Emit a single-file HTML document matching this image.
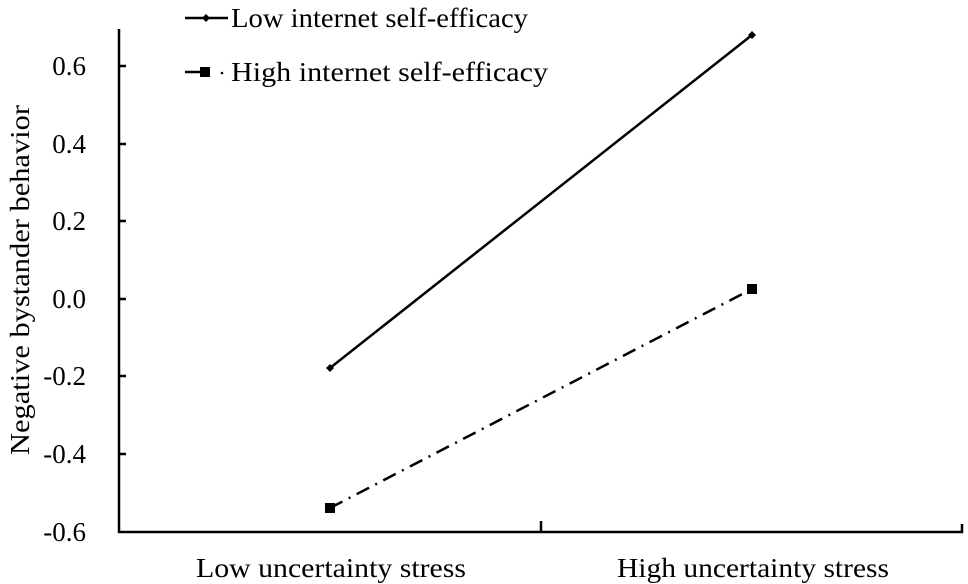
<!DOCTYPE html>
<html><head><style>body{margin:0;background:#fff}svg{display:block}</style></head><body>
<svg width="968" height="584" xmlns="http://www.w3.org/2000/svg" font-family="Liberation Serif, serif" fill="#000">
<g stroke="#000" stroke-width="2.5" fill="none">
<path d="M119,29 V532 H962 V524"/>
<path d="M541,532 V521"/>
<path d="M119,66 h7 M119,144 h7 M119,221 h7 M119,299 h7 M119,376 h7 M119,454 h7"/>
<line x1="330" y1="368" x2="752" y2="35"/>
<line x1="330" y1="508" x2="752" y2="289" stroke-dasharray="14,7,2,7"/>
<line x1="185" y1="18" x2="228" y2="18"/>
<line x1="185" y1="72" x2="200" y2="72"/>
</g>
<g>
<path d="M330,364 l4,4 -4,4 -4,-4z"/><path d="M752,31 l4,4 -4,4 -4,-4z"/><path d="M206,14 l4,4 -4,4 -4,-4z"/>
<rect x="325" y="503" width="10" height="10"/><rect x="747" y="284" width="10" height="10"/><rect x="200" y="67" width="10" height="10"/>
<circle cx="222" cy="73" r="1.3"/>
</g>
<g font-size="27" text-anchor="end">
<text x="86" y="75">0.6</text><text x="86" y="153">0.4</text><text x="86" y="230">0.2</text><text x="86" y="308">0.0</text><text x="86" y="385">-0.2</text><text x="86" y="463">-0.4</text><text x="86" y="541">-0.6</text>
</g>
<g font-size="27">
<text x="231" y="27" textLength="297" lengthAdjust="spacingAndGlyphs">Low internet self-efficacy</text>
<text x="231" y="81" textLength="317" lengthAdjust="spacingAndGlyphs">High internet self-efficacy</text>
<text x="196" y="577" textLength="270" lengthAdjust="spacingAndGlyphs">Low uncertainty stress</text>
<text x="617" y="577" textLength="272" lengthAdjust="spacingAndGlyphs">High uncertainty stress</text>
<text transform="translate(29,455) rotate(-90)" textLength="350" lengthAdjust="spacingAndGlyphs">Negative bystander behavior</text>
</g>
</svg>
</body></html>
